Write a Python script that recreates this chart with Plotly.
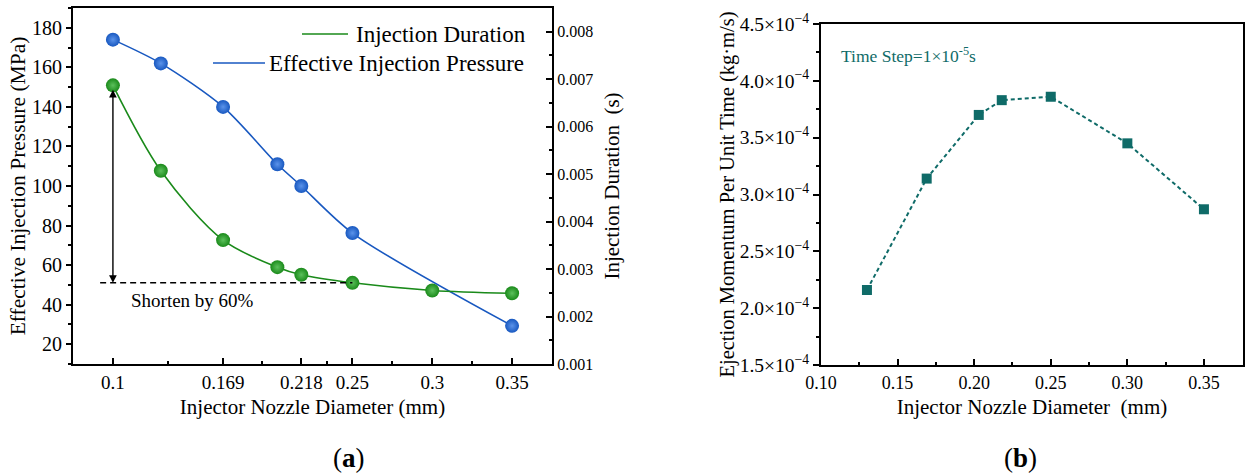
import plotly.graph_objects as go

# ---------------- data ----------------
# panel (a)
diam_a = [0.1, 0.13, 0.169, 0.203, 0.218, 0.25, 0.3, 0.35]
duration_s = [0.00687, 0.00507, 0.00361, 0.00304, 0.00288, 0.00271, 0.00255, 0.00249]
diam_p = [0.1, 0.13, 0.169, 0.203, 0.218, 0.25, 0.35]
pressure_mpa = [174, 162, 140, 111, 100, 76.2, 29.3]
xa_tickvals = [0.1, 0.169, 0.218, 0.25, 0.3, 0.35]
xa_ticktext = ["0.1", "0.169", "0.218", "0.25", "0.3", "0.35"]
xa_minor = [0.1345, 0.1935, 0.234, 0.275, 0.325]

# panel (b)
diam_b = [0.13, 0.169, 0.203, 0.218, 0.25, 0.3, 0.35]
momentum = [2.16e-4, 3.14e-4, 3.70e-4, 3.83e-4, 3.86e-4, 3.45e-4, 2.87e-4]
yb_tickvals = [1.5e-4, 2.0e-4, 2.5e-4, 3.0e-4, 3.5e-4, 4.0e-4, 4.5e-4]
yb_ticktext = ["1.5×10<sup>−4</sup>", "2.0×10<sup>−4</sup>", "2.5×10<sup>−4</sup>",
               "3.0×10<sup>−4</sup>", "3.5×10<sup>−4</sup>", "4.0×10<sup>−4</sup>",
               "4.5×10<sup>−4</sup>"]

# ---------------- style ----------------
FONT = "Liberation Serif"
GREEN = "#1a8a1a"
GREEN_L = "#5cc05c"
BLUE = "#1858c0"
BLUE_L = "#5b93ea"
TEAL = "#0f6b68"
W, H = 1245, 475

def px_x(p):
    return p / W

def px_y(p):
    return 1 - p / H

fig = go.Figure()

# ---- panel (a) traces ----
fig.add_trace(go.Scatter(
    x=diam_p, y=pressure_mpa, xaxis="x", yaxis="y",
    mode="lines+markers", line=dict(color=BLUE, width=1.6, shape="spline", smoothing=0.8),
    marker=dict(size=14, color=BLUE, gradient=dict(type="radial", color=BLUE_L), line=dict(width=0)),
    name="Effective Injection Pressure", showlegend=False))
fig.add_trace(go.Scatter(
    x=diam_a, y=duration_s, xaxis="x", yaxis="y2",
    mode="lines+markers", line=dict(color=GREEN, width=1.6, shape="spline", smoothing=0.9),
    marker=dict(size=14, color=GREEN, gradient=dict(type="radial", color=GREEN_L), line=dict(width=0)),
    name="Injection Duration", showlegend=False))

# ---- panel (b) trace ----
fig.add_trace(go.Scatter(
    x=diam_b, y=momentum, xaxis="x2", yaxis="y3",
    mode="lines+markers", line=dict(color=TEAL, width=2, dash="4px,3px"),
    marker=dict(symbol="square", size=10, color=TEAL, line=dict(width=0)),
    showlegend=False))

axis_common = dict(showline=True, linecolor="black", linewidth=2, showgrid=False, zeroline=False,
                   tickcolor="black", tickwidth=1.5, automargin=False)

fig.update_layout(
    width=W, height=H, margin=dict(l=0, r=0, t=0, b=0),
    paper_bgcolor="white", plot_bgcolor="white",
    font=dict(family=FONT, color="black"),
    xaxis=dict(**axis_common, domain=[px_x(73), px_x(552)], range=[0.075, 0.375],
               anchor="y", mirror=True,
               tickmode="array", tickvals=xa_tickvals, ticktext=xa_ticktext,
               ticks="inside", ticklen=6, tickfont=dict(size=19),
               minor=dict(tickmode="array", tickvals=xa_minor, ticks="inside", ticklen=3,
                          tickcolor="black", showgrid=False),
               title=dict(text="Injector Nozzle Diameter (mm)", font=dict(size=21), standoff=8)),
    yaxis=dict(**axis_common, domain=[px_y(364), px_y(8)], range=[10, 190], anchor="x",
               dtick=20, tick0=20, ticks="outside", ticklen=5, tickfont=dict(size=20),
               minor=dict(dtick=10, tick0=10, ticks="outside", ticklen=3, tickcolor="black", showgrid=False),
               title=dict(text="Effective Injection Pressure (MPa)", font=dict(size=21.5), standoff=0)),
    yaxis2=dict(**axis_common, domain=[px_y(364), px_y(8)], range=[0.001, 0.0085],
                overlaying="y", side="right", anchor="x",
                dtick=0.001, tick0=0.001, tickformat=".3f", ticks="inside", ticklen=6,
                tickfont=dict(size=16),
                minor=dict(dtick=0.0005, tick0=0.001, ticks="inside", ticklen=3, tickcolor="black", showgrid=False),
                title=dict(text="Injection Duration  (s)", font=dict(size=21), standoff=12)),
    xaxis2=dict(**axis_common, domain=[px_x(821), px_x(1243)], range=[0.10, 0.3755],
                anchor="y3", mirror=True, dtick=0.05, tick0=0.1, tickformat=".2f",
                ticks="inside", ticklen=6, tickfont=dict(size=18),
                minor=dict(dtick=0.025, tick0=0.1, ticks="inside", ticklen=3, tickcolor="black", showgrid=False),
                title=dict(text="Injector Nozzle Diameter  (mm)", font=dict(size=21), standoff=8)),
    yaxis3=dict(**axis_common, domain=[px_y(365), px_y(24)], range=[1.5e-4, 4.5e-4],
                anchor="x2", mirror=True,
                tickmode="array", tickvals=yb_tickvals, ticktext=yb_ticktext,
                ticks="outside", ticklen=6, tickfont=dict(size=19.5),
                minor=dict(dtick=0.25e-4, tick0=1.5e-4, ticks="outside", ticklen=3, tickcolor="black", showgrid=False),
                title=dict(text="Ejection Momentum Per Unit Time (kg·m/s)", font=dict(size=20.5), standoff=0)),
)

# ---- "Shorten by 60%" marking ----
fig.add_shape(type="line", xref="x", yref="y2", x0=0.092, x1=diam_a[5],
              y0=duration_s[5], y1=duration_s[5], line=dict(color="black", width=1.5, dash="6px,4px"))
fig.add_annotation(x=diam_a[0], y=duration_s[5], ax=diam_a[0], ay=duration_s[0],
                   xref="x", yref="y2", axref="x", ayref="y2", text="",
                   showarrow=True, arrowhead=2, arrowside="end+start", arrowsize=1.1,
                   arrowwidth=1.4, arrowcolor="black", startstandoff=3)
fig.add_annotation(x=0.110, y=0.00234, xref="x", yref="y2", text="Shorten by 60%",
                   showarrow=False, xanchor="left", yanchor="middle", font=dict(size=19))

# ---- manual legend (right aligned text) ----
fig.add_shape(type="line", xref="paper", yref="paper", x0=px_x(302), x1=px_x(348),
              y0=px_y(34), y1=px_y(34), line=dict(color=GREEN, width=1.6))
fig.add_annotation(x=px_x(528), y=px_y(34), xref="paper", yref="paper", text="Injection Duration",
                   showarrow=False, xanchor="right", yanchor="middle", font=dict(size=23))
fig.add_shape(type="line", xref="paper", yref="paper", x0=px_x(213), x1=px_x(265),
              y0=px_y(63), y1=px_y(63), line=dict(color=BLUE, width=1.6))
fig.add_annotation(x=px_x(526), y=px_y(63), xref="paper", yref="paper", text="Effective Injection Pressure",
                   showarrow=False, xanchor="right", yanchor="middle", font=dict(size=23))

# ---- panel (b) note ----
fig.add_annotation(x=px_x(839), y=px_y(55), xref="paper", yref="paper",
                   text="Time Step=1×10<sup>-5</sup>s", showarrow=False,
                   xanchor="left", yanchor="middle", font=dict(size=17.5, color=TEAL))

# ---- panel labels ----
fig.add_annotation(x=px_x(349), y=px_y(458), xref="paper", yref="paper", text="(<b>a</b>)",
                   showarrow=False, xanchor="center", yanchor="middle", font=dict(size=27))
fig.add_annotation(x=px_x(1020), y=px_y(458), xref="paper", yref="paper", text="(<b>b</b>)",
                   showarrow=False, xanchor="center", yanchor="middle", font=dict(size=27))

fig.write_html("out.html")
